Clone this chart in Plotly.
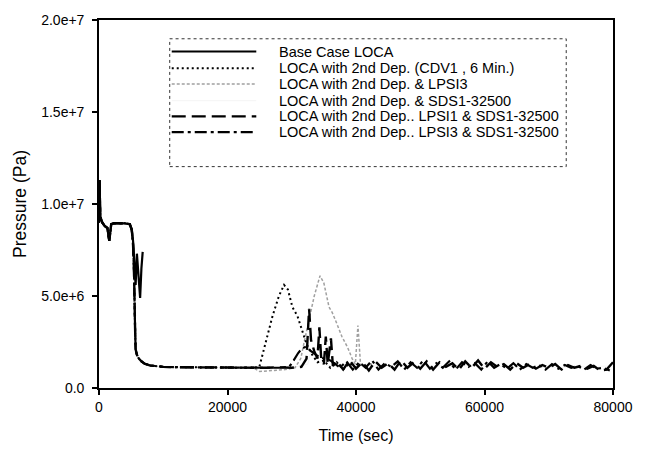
import plotly.graph_objects as go

# ---------------- data (time in s, pressure in Pa) ----------------
# common blowdown part shared by the cases with a 2nd depressurisation
t_common = [0, 80, 200, 500, 900, 1300, 1600, 1750, 1900, 2300, 3000, 4000, 4800,
            5100, 5300, 5450, 5600, 5700, 5900, 6200, 6600, 7100, 8000, 9000, 10000,
            12000, 14000, 16000, 18000, 20000, 22000, 24000]
p_common = [9.0e6, 1.13e7, 9.3e6, 9.0e6, 8.8e6, 8.7e6, 8.0e6, 8.6e6, 8.9e6, 8.95e6,
            8.95e6, 8.95e6, 8.9e6, 8.6e6, 7.8e6, 6.3e6, 3.5e6, 2.1e6, 1.8e6, 1.6e6,
            1.45e6, 1.32e6, 1.22e6, 1.18e6, 1.15e6, 1.13e6, 1.12e6, 1.12e6, 1.1e6,
            1.1e6, 1.08e6, 1.1e6]

# Base Case LOCA
t_base = [0, 80, 200, 500, 900, 1300, 1600, 1750, 1900, 2300, 3000, 4000, 4800, 5100,
          5300, 5500, 5700, 5900, 6150, 6400, 6600, 6800]
p_base = [9.0e6, 1.13e7, 9.3e6, 9.0e6, 8.8e6, 8.7e6, 8.0e6, 8.6e6, 8.9e6, 8.95e6,
          8.95e6, 8.95e6, 8.9e6, 8.6e6, 8.0e6, 6.8e6, 5.6e6, 7.3e6, 6.0e6, 4.9e6,
          6.5e6, 7.4e6]

# LOCA with 2nd Dep. (CDV1, 6 Min.)
t_cdv1 = [24960, 26000, 27000, 28000, 28800, 29400, 30100, 30900, 31500, 32300, 33200,
          34000, 35000, 36000, 37000, 38000, 39000, 40000]
p_cdv1 = [1.15e6, 2.5e6, 3.9e6, 5.0e6, 5.6e6, 5.35e6, 4.4e6, 3.9e6, 3.3e6, 2.4e6,
          1.8e6, 1.4e6, 1.5e6, 1.1e6, 1.4e6, 1.0e6, 1.35e6, 1.1e6]

# LOCA with 2nd Dep. & LPSI3
t_lpsi3 = [25000, 27000, 29000, 30500, 31400, 32000, 32700, 33500, 34400, 35000, 35800,
           36300, 36900, 37800, 38700, 39400, 39900, 40300, 40700, 41500, 42500]
p_lpsi3 = [0.9e6, 0.95e6, 1.0e6, 1.1e6, 1.6e6, 2.6e6, 3.7e6, 5.0e6, 6.1e6, 5.7e6,
           4.4e6, 4.1e6, 3.6e6, 2.8e6, 2.2e6, 1.6e6, 1.3e6, 3.4e6, 1.3e6, 1.2e6, 1.3e6]

# LOCA with 2nd Dep. & SDS1-32500
t_sds1 = [26000, 30000, 32500, 33000, 34000, 35000, 36000, 40000, 50000, 60000,
          70000, 80000]
p_sds1 = [1.1e6, 1.1e6, 1.3e6, 2.0e6, 1.5e6, 1.3e6, 1.2e6, 1.2e6, 1.2e6, 1.2e6,
          1.1e6, 1.2e6]

# LOCA with 2nd Dep.. LPSI1 & SDS1-32500
t_lpsi1_sds = [26000, 28000, 30000, 31500, 32300, 32700, 33000, 33500, 34000, 34300,
               34600, 35000, 35300, 35600, 36100, 36400,
               37000, 38000, 39000, 40000, 41000, 42000, 43000, 44000, 45000, 46000,
               47000, 48000, 49000, 50000, 51000, 52000, 53000, 54000, 55000, 56000,
               57000, 58000, 59000, 60000, 61000, 62000, 63000, 64000, 65000, 66000,
               67000, 68000, 69000, 70000, 71000, 72000, 73000, 74000, 75000, 76000,
               77000, 78000, 79000, 80000]
p_lpsi1_sds = [1.1e6, 1.12e6, 1.1e6, 1.15e6, 1.6e6, 4.3e6, 2.6e6, 2.0e6, 1.6e6, 3.3e6,
               1.5e6, 1.3e6, 2.8e6, 1.3e6, 2.7e6, 1.2e6,
               1.45e6, 1.0e6, 1.5e6, 1.05e6, 1.4e6, 0.95e6, 1.45e6, 1.1e6, 1.35e6, 1.0e6,
               1.5e6, 1.1e6, 1.4e6, 1.05e6, 1.45e6, 1.0e6, 1.4e6, 1.15e6, 1.35e6, 1.0e6,
               1.45e6, 1.1e6, 1.5e6, 1.05e6, 1.4e6, 1.15e6, 1.3e6, 1.0e6, 1.35e6, 1.1e6,
               1.3e6, 1.05e6, 1.25e6, 1.1e6, 1.3e6, 1.0e6, 1.25e6, 1.1e6, 1.2e6, 1.05e6,
               1.2e6, 0.95e6, 1.0e6, 1.4e6]

# LOCA with 2nd Dep.. LPSI3 & SDS1-32500
t_lpsi3_sds = [26000, 28000, 29600, 30300, 31000, 31600, 32200, 33000, 34000, 35000,
               36000, 36800,
               37500, 38500, 39500, 40500, 41500, 42500, 43500, 44500, 45500, 46500,
               47500, 48500, 49500, 50500, 51500, 52500, 53500, 54500, 55500, 56500,
               57500, 58500, 59500, 60500, 61500, 62500, 63500, 64500, 65500, 66500,
               67500, 68500, 69500, 70500, 71500, 72500, 73500, 74500, 75500, 76500,
               77500, 78500, 79500]
p_lpsi3_sds = [1.1e6, 1.1e6, 1.15e6, 1.5e6, 1.9e6, 2.15e6, 2.25e6, 2.0e6, 1.75e6, 1.6e6,
               1.5e6, 1.3e6,
               1.1e6, 1.45e6, 1.0e6, 1.4e6, 1.1e6, 1.5e6, 1.0e6, 1.35e6, 1.15e6, 1.45e6,
               1.0e6, 1.4e6, 1.1e6, 1.5e6, 1.05e6, 1.35e6, 1.1e6, 1.45e6, 1.0e6, 1.4e6,
               1.15e6, 1.35e6, 1.0e6, 1.45e6, 1.1e6, 1.3e6, 1.05e6, 1.35e6, 1.0e6, 1.3e6,
               1.1e6, 1.25e6, 1.0e6, 1.3e6, 1.05e6, 1.25e6, 1.1e6, 1.2e6, 1.0e6, 1.25e6,
               1.05e6, 1.1e6, 0.95e6]

series_names = [
    "Base Case LOCA",
    "LOCA with 2nd Dep. (CDV1 , 6 Min.)",
    "LOCA with 2nd Dep. & LPSI3",
    "LOCA with 2nd Dep. & SDS1-32500",
    "LOCA with 2nd Dep.. LPSI1 & SDS1-32500",
    "LOCA with 2nd Dep.. LPSI3 & SDS1-32500",
]

x_ticks = [0, 20000, 40000, 60000, 80000]
x_tick_text = ["0", "20000", "40000", "60000", "80000"]
y_ticks = [0, 5e6, 1e7, 1.5e7, 2e7]
y_tick_text = ["0.0", "5.0e+6", "1.0e+7", "1.5e+7", "2.0e+7"]

# ---------------- styles ----------------
styles = [
    dict(color="black", width=2.2, dash="solid"),
    dict(color="black", width=2, dash="2px,3px"),
    dict(color="#a0a0a0", width=1.5, dash="3px,2px"),
    dict(color="#f4f4f4", width=1, dash="solid"),
    dict(color="black", width=2.4, dash="14px,6px"),
    dict(color="black", width=2.2, dash="12px,4px,3px,4px"),
]

data_sets = [
    (t_base, p_base),
    (t_common + t_cdv1, p_common + p_cdv1),
    (t_common + t_lpsi3, p_common + p_lpsi3),
    (t_common + t_sds1, p_common + p_sds1),
    (t_common + t_lpsi1_sds, p_common + p_lpsi1_sds),
    (t_common + t_lpsi3_sds, p_common + p_lpsi3_sds),
]

fig = go.Figure()
draw_order = [3, 2, 1, 5, 4, 0]
for i in draw_order:
    tx, py = data_sets[i]
    fig.add_trace(go.Scatter(x=tx, y=py, mode="lines", name=series_names[i],
                             line=styles[i], showlegend=False))

FONT = "Liberation Sans, Arial, sans-serif"

# ---------------- manual legend ----------------
L_X0, L_X1 = 0.1376, 0.909
L_Y0, L_Y1 = 0.6016, 0.949
fig.add_shape(type="rect", xref="paper", yref="paper", x0=L_X0, x1=L_X1, y0=L_Y0, y1=L_Y1,
              line=dict(color="#333333", width=1, dash="dot"), fillcolor="white", layer="above")
row_y = [0.9144, 0.8690, 0.8262, 0.7807, 0.7380, 0.6952]
for k, name in enumerate(series_names):
    st = styles[k]
    fig.add_shape(type="line", xref="paper", yref="paper", x0=0.1415, x1=0.306,
                  y0=row_y[k], y1=row_y[k], line=dict(color=st["color"], width=st["width"],
                                                        dash=st["dash"]), layer="above")
    fig.add_annotation(x=0.347, y=row_y[k], xref="paper", yref="paper", text=name,
                       showarrow=False, xanchor="left", yanchor="middle",
                       font=dict(family=FONT, size=14.5, color="black"))

fig.update_layout(
    width=645, height=455,
    margin=dict(l=99, r=30, t=14, b=67),
    paper_bgcolor="white", plot_bgcolor="white",
    font=dict(family=FONT, size=14, color="black"),
    xaxis=dict(range=[0, 80000], tickvals=x_ticks, ticktext=x_tick_text,
               showgrid=False, zeroline=False, showline=True, linecolor="black",
               linewidth=1.6, mirror=True, ticks="outside", ticklen=5, tickwidth=1.5,
               tickcolor="black", tickfont=dict(size=14),
               title=dict(text="Time (sec)", font=dict(size=16), standoff=16)),
    yaxis=dict(range=[0, 2e7], tickvals=y_ticks, ticktext=y_tick_text,
               showgrid=False, zeroline=False, showline=True, linecolor="black",
               linewidth=1.6, mirror=True, ticks="outside", ticklen=5, tickwidth=1.5,
               tickcolor="black", tickfont=dict(size=14), ticklabelstandoff=5,
               title=dict(text="Pressure (Pa)", font=dict(size=17.5), standoff=10)),
)

fig.write_html("out.html")
